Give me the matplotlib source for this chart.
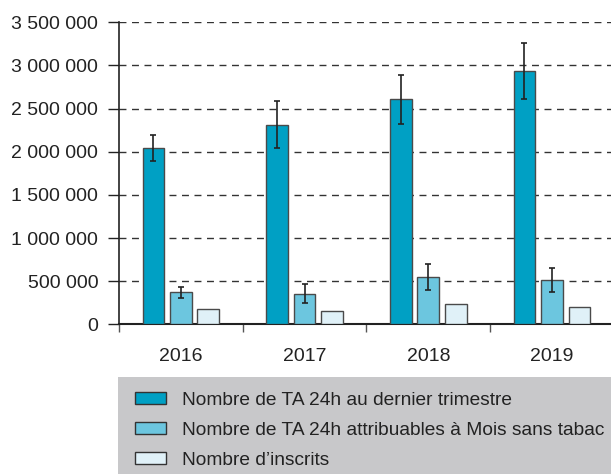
import numpy as np
import matplotlib
matplotlib.use('Agg')
import matplotlib.pyplot as plt
from matplotlib.patches import Rectangle, Patch
from matplotlib.ticker import FuncFormatter

plt.rcParams['font.family'] = ['Liberation Sans', 'DejaVu Sans']

years = ['2016', '2017', '2018', '2019']
labels = ['Nombre de TA 24h au dernier trimestre',
          'Nombre de TA 24h attribuables à Mois sans tabac',
          'Nombre d\u2019inscrits']

ta_total = [2048000, 2314000, 2608000, 2940000]
ta_total_lo = [1893000, 2048000, 2326000, 2612000]
ta_total_hi = [2195000, 2589000, 2890000, 3265000]

ta_mst = [371000, 355000, 549000, 514000]
ta_mst_lo = [309000, 243000, 394000, 375000]
ta_mst_hi = [437000, 464000, 703000, 657000]

inscrits = [174000, 155000, 240000, 205000]

colors = ['#00a0c4', '#6cc6df', '#e0f1f8']

fig = plt.figure(figsize=(6.11, 4.74), dpi=100)
ax = fig.add_axes([119 / 611, 1 - 324.3 / 474, 494.8 / 611, 302 / 474])

x = np.arange(len(years))
step = 0.222
width = 0.175

def err(v, lo, hi):
    v = np.array(v); return [v - np.array(lo), np.array(hi) - v]

ax.bar(x - step, ta_total, width, color=colors[0], edgecolor='#4a4a4a', linewidth=1,
       yerr=err(ta_total, ta_total_lo, ta_total_hi), capsize=2.5,
       error_kw=dict(ecolor='#222222', elinewidth=1.2, capthick=1.2), zorder=3)
ax.bar(x, ta_mst, width, color=colors[1], edgecolor='#4a4a4a', linewidth=1,
       yerr=err(ta_mst, ta_mst_lo, ta_mst_hi), capsize=2.5,
       error_kw=dict(ecolor='#222222', elinewidth=1.2, capthick=1.2), zorder=3)
ax.bar(x + step, inscrits, width, color=colors[2], edgecolor='#4a4a4a', linewidth=1, zorder=3)

ax.set_xlim(-0.5, 3.5)
ax.set_ylim(0, 3500000)
ax.set_yticks(np.arange(0, 3500001, 500000))
ax.yaxis.set_major_formatter(FuncFormatter(lambda v, p: f'{int(v):,}'.replace(',', ' ')))
ax.grid(axis='y', linestyle=(0, (5, 4)), color='#333333', linewidth=1, zorder=0)
ax.set_axisbelow(True)

ax.set_xticks(x)
ax.set_xticklabels(years)
ax.set_xticks(np.arange(-0.5, 3.6, 1), minor=True)
ax.tick_params(axis='x', which='major', length=0, pad=17, labelsize=14, colors='#222222')
ax.tick_params(axis='x', which='minor', length=6, width=1, color='#555555')
ax.tick_params(axis='y', length=8, width=1, labelsize=14, pad=7, colors='#222222')

for s in ['top', 'right']:
    ax.spines[s].set_visible(False)
ax.spines['left'].set_color('#222222')
ax.spines['bottom'].set_color('#222222')
ax.spines['left'].set_linewidth(1.2)
ax.spines['bottom'].set_linewidth(1.5)

fig.add_artist(Rectangle((118 / 611, 0), 1 - 118 / 611, 97 / 474,
                         transform=fig.transFigure, facecolor='#c8c8ca', edgecolor='none'))
handles = [Patch(facecolor=c, edgecolor='#333333', linewidth=1) for c in colors]
fig.legend(handles, labels, loc='upper left', bbox_to_anchor=(135 / 611, 1 - 392 / 474),
           frameon=False, fontsize=13.8, handlelength=1.6, handleheight=0.57,
           handletextpad=0.83, labelspacing=0.68, borderaxespad=0, borderpad=0,
           labelcolor='#222222')

fig.savefig('out.png', dpi=100)
